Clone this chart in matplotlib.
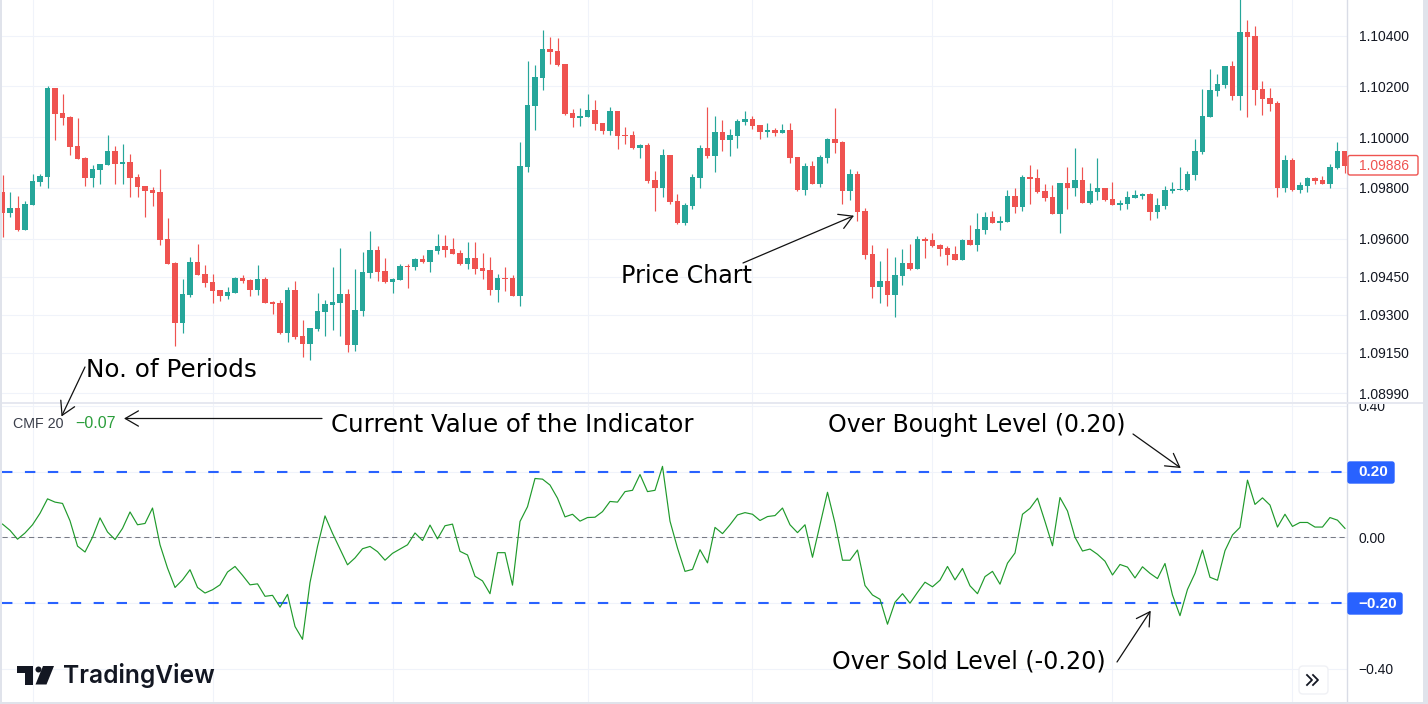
import numpy as np
import pandas as pd
import matplotlib
matplotlib.use('Agg')
import matplotlib.pyplot as plt
from matplotlib.patches import Rectangle, Polygon, Circle, FancyBboxPatch
from matplotlib.transforms import Bbox

W, H = 1428, 704

# OHLC, in points above 1.09000
ohlc = [
(782,849,605,700),(700,782,684,719),(719,767,629,633),(633,747,633,735),(731,853,731,826),
(822,853,806,845),(841,1200,798,1192),(1192,1192,987,1090),(1094,1169,1046,1074),(1078,1082,928,960),
(964,1074,912,912),(916,920,806,838),(838,889,802,873),(869,893,814,893),(889,1007,889,944),
(944,964,814,893),(893,972,814,901),(901,932,763,838),(841,853,763,802),(806,806,684,786),
(790,802,727,778),(782,873,574,593),(597,680,499,499),(503,507,176,266),(266,440,227,380),
(376,526,369,507),(507,577,455,455),(459,495,408,424),(428,459,345,392),(396,396,353,372),
(372,408,361,388),(384,447,384,443),(443,455,424,432),(436,440,372,396),(396,495,376,440),
(440,447,345,345),(349,353,302,341),(345,357,223,227),(227,408,191,396),(396,432,203,211),
(215,278,132,183),(183,246,120,246),(242,384,235,313),(309,357,215,341),(337,487,239,349),
(345,562,215,380),(380,400,152,179),(179,479,156,317),(313,546,294,467),(463,629,443,554),
(554,570,432,467),(471,522,424,428),(428,443,384,440),(436,499,436,491),(491,499,404,487),
(487,522,475,518),(518,534,503,507),(507,554,467,554),(550,617,538,570),(570,613,526,554),
(558,601,538,538),(542,554,495,499),(499,585,479,522),(522,585,459,479),(483,542,440,471),
(475,526,376,396),(396,459,349,443),(443,487,392,440),(443,455,372,372),(372,979,333,885),
(881,1299,861,1125),(1121,1283,1027,1236),(1232,1421,1184,1346),(1346,1393,1287,1334),(1338,1389,1279,1283),
(1287,1287,1086,1090),(1094,1109,1038,1074),(1074,1113,1042,1082),(1078,1169,1078,1105),(1105,1145,1027,1050),
(1054,1054,1011,1023),(1023,1117,1007,1102),(1102,1102,952,1003),(1007,1038,972,1003),(1007,1023,952,956),
(956,972,916,968),(968,975,818,826),(830,865,708,798),(798,952,763,928),(928,928,735,743),
(747,774,656,660),(660,739,652,731),(727,853,715,841),(838,968,798,956),(956,1117,916,924),
(924,1082,861,1019),(1019,1066,944,987),(987,1031,924,1007),(1003,1070,956,1062),(1058,1102,1046,1070),
(1070,1082,1031,1042),(1046,1046,991,1019),(1019,1054,999,1027),(1027,1035,1003,1015),(1015,1050,1015,1027),
(1027,1054,897,916),(920,920,786,790),(790,897,771,885),(885,905,814,814),(814,928,802,920),
(916,995,897,991),(991,1113,936,975),(979,983,735,786),(786,873,751,853),(853,865,668,704),
(708,719,518,534),(538,574,365,408),(408,510,345,432),(432,562,333,376),(376,526,290,455),
(451,558,416,503),(503,577,475,479),(479,609,479,597),(597,605,522,589),(593,621,566,570),
(573,577,530,558),(562,570,495,534),(538,570,514,514),(514,597,514,593),(593,652,573,573),
(573,700,550,637),(633,704,617,684),(684,708,660,660),(660,688,633,668),(664,790,664,767),
(767,798,700,723),(723,849,708,841),(841,889,735,834),(838,873,778,782),(786,814,747,759),
(763,810,696,696),(696,818,621,818),(818,881,715,798),(798,956,767,830),(830,881,739,739),
(739,818,735,786),(782,916,751,798),(798,798,747,751),(755,822,731,731),(731,751,711,739),
(735,786,715,763),(759,790,759,771),(767,778,755,774),(774,778,672,704),(704,759,680,731),
(727,806,715,790),(786,822,778,794),(790,881,790,794),(790,865,786,853),(849,991,830,944),
(940,1188,932,1082),(1078,1267,1078,1184),(1180,1247,1161,1208),(1204,1279,1192,1279),(1279,1299,1145,1161),
(1161,1552,1105,1413),(1413,1460,1078,1393),(1397,1437,1125,1184),(1188,1220,1086,1149),(1153,1192,1102,1129),
(1133,1141,763,798),(798,928,782,908),(908,916,786,790),(790,822,778,810),(806,841,782,838),
(838,841,814,826),(830,845,814,814),(814,893,798,881),(877,979,873,944),(944,944,857,886),
]
df = pd.DataFrame(ohlc, columns=['open', 'high', 'low', 'close'])
df = 1.09 + df / 1e5

cmf = [
.040,.021,-.006,.013,.038,.073,.117,.107,.103,.050,-.027,-.045,0,.059,.016,-.007,.027,.077,.038,.042,
.089,-.023,-.094,-.153,-.130,-.099,-.153,-.170,-.160,-.145,-.106,-.089,-.116,-.145,-.142,-.180,-.177,-.213,-.174,-.272,
-.311,-.138,-.028,.065,.012,-.036,-.084,-.063,-.035,-.028,-.044,-.070,-.049,-.036,-.023,.013,-.010,.037,-.005,.035,
.040,-.043,-.054,-.119,-.133,-.172,-.047,-.047,-.146,.048,.093,.179,.177,.159,.119,.062,.070,.049,.060,.061,
.078,.109,.107,.139,.143,.191,.139,.143,.216,.049,-.033,-.104,-.098,-.038,-.078,.030,.011,.038,.068,.075,
.070,.051,.063,.066,.089,.038,.014,.038,-.061,.038,.137,.043,-.070,-.070,-.039,-.147,-.176,-.189,-.265,-.198,
-.172,-.201,-.168,-.137,-.151,-.131,-.089,-.130,-.095,-.148,-.172,-.120,-.104,-.143,-.079,-.048,.070,.088,.119,.048,
-.026,.121,.080,0,-.042,-.036,-.052,-.073,-.115,-.083,-.091,-.124,-.090,-.110,-.126,-.080,-.176,-.239,-.159,-.110,
-.039,-.122,-.131,-.041,.007,.030,.174,.100,.120,.098,.031,.070,.033,.045,.045,.031,.031,.060,.052,.027,
]

UP, DOWN = '#26a69a', '#ef5350'
GRID = '#f0f3fa'
EDGE = '#d9dce6'
BLUE = '#2962ff'
INK = '#131722'

fig = plt.figure(figsize=(W / 100, H / 100), dpi=100, facecolor='white')
ax = fig.add_axes([2 / W, (H - 403) / H, 1345 / W, 403 / H])
ax2 = fig.add_axes([2 / W, 2 / H, 1345 / W, 299 / H])

x = np.arange(len(df))
xlim = (-0.07, 179.27)
gridx = [4, 28, 52, 78, 100, 124, 148, 172]

# ローソク足
colors = np.where(df['close'] >= df['open'], UP, DOWN)
ax.vlines(x, df['low'], df['high'], colors=colors, linewidth=0.85, zorder=3)
ax.bar(x, (df['close'] - df['open']).abs(), bottom=df[['open', 'close']].min(axis=1),
       width=0.68, color=colors, linewidth=0, zorder=4)
ax.set_xlim(xlim)
ax.set_ylim(1.08952, 1.1054)
pticks = [1.104, 1.102, 1.100, 1.098, 1.096, 1.0945, 1.093, 1.0915, 1.0899]
ax.set_yticks(pticks)
ax.set_yticklabels(['%.5f' % p for p in pticks])

# CMF
ax2.plot(x, cmf, color='#1f9a2b', linewidth=0.85, zorder=4)
ax2.axhline(0.2, color=BLUE, linewidth=1.5, dashes=(5, 6), zorder=3)
ax2.axhline(-0.2, color=BLUE, linewidth=1.5, dashes=(5, 6), zorder=3)
ax2.axhline(0, color='#787b86', linewidth=0.75, dashes=(5, 3.5), zorder=3)
ax2.set_xlim(xlim)
ax2.set_ylim(-0.502, 0.409)
ax2.set_yticks([0.4, 0.2, 0, -0.2, -0.4])
ax2.set_yticklabels(['0.40', '', '0.00', '', '\u22120.40'])

for a in (ax, ax2):
    a.set_xticks(gridx)
    a.set_xticklabels([])
    a.grid(True, color=GRID, linewidth=0.8)
    a.set_axisbelow(True)
    a.yaxis.tick_right()
    a.tick_params(axis='both', length=0)
    a.tick_params(axis='y', pad=8.5, labelsize=10, labelcolor=INK)
    for s in ('top', 'left', 'bottom'):
        a.spines[s].set_visible(False)
    a.spines['right'].set_color(EDGE)
    a.spines['right'].set_linewidth(1.0)
    for lab in a.get_yticklabels():
        lab.set_family(['Liberation Sans', 'DejaVu Sans'])

for tick in ax2.yaxis.get_major_ticks():
    tick.label2.set_clip_on(True)
    tick.label2.set_clip_box(Bbox([[1340, 0], [W, H - 402.5]]))

# 注釈・枠・ロゴはピクセル座標のオーバーレイに描く
ov = fig.add_axes([0, 0, 1, 1], facecolor='none')
ov.set_xlim(0, W)
ov.set_ylim(H, 0)
ov.axis('off')

# 右軸のタグ
def tag_box(x0, y0, w, h, fc, ec):
    ov.add_patch(FancyBboxPatch((x0, y0), w, h, boxstyle='round,pad=0,rounding_size=2',
                                fc=fc, ec=ec, lw=1.0, zorder=5))

tag_box(1348, 462, 46, 21, BLUE, BLUE)
tag_box(1348, 593, 54, 21, BLUE, BLUE)
tag_box(1348, 155.5, 70, 19.5, 'white', DOWN)
tag = dict(transform=ov.transData, ha='left', va='center', color='white', fontsize=11,
           fontweight='bold', family='Liberation Sans', zorder=6)
ov.text(1358, 472.5, '0.20', **tag)
ov.text(1358, 603.5, '\u22120.20', **tag)
ov.text(1359, 165.5, '%.5f' % df['close'].iloc[-1], ha='left', va='center', color=DOWN, fontsize=10,
        family='Liberation Sans', zorder=6)

ov.add_patch(Rectangle((0, 0), 2, H, fc='#e0e3eb', ec='none'))
ov.add_patch(Rectangle((1423, 0), 5, H, fc='#e0e3eb', ec='none'))
ov.add_patch(Rectangle((2, 402), 1421, 2, fc='#e6e8f0', ec='none'))
ov.add_patch(Rectangle((0, 702), W, 2, fc='#e0e3eb', ec='none'))

labels = [
    ('No. of Periods', 86, 370, 17.8),
    ('Current Value of the Indicator', 331, 425, 17.6),
    ('Over Bought Level (0.20)', 828, 425, 17.0),
    ('Over Sold Level (-0.20)', 832, 661, 17.1),
    ('Price Chart', 621, 276, 17.1),
]
for s, tx, ty, fs in labels:
    ov.text(tx, ty, s, fontsize=fs, color='black', ha='left', va='center', family='DejaVu Sans')

arrows = [
    ((85, 367), (61.5, 416.5)),
    ((322, 418.5), (124, 418.5)),
    ((1133, 434), (1180.7, 468)),
    ((1117, 662), (1150.7, 610.7)),
    ((743, 263), (854, 215.7)),
]
for tail, tip in arrows:
    ov.annotate('', xy=tip, xytext=tail,
                arrowprops=dict(arrowstyle='->,head_length=0.95,head_width=0.55', color='#111111',
                                linewidth=0.9, shrinkA=0, shrinkB=0))

ov.text(13, 424, 'CMF 20', fontsize=10.3, color='#3a3e4a', ha='left', va='center', family='Liberation Sans')
ov.text(75, 424, '\u22120.07', fontsize=11.5, color='#2a9d3a', ha='left', va='center', family='Liberation Sans')

# TradingView ロゴ
ov.add_patch(Polygon([(17, 666), (32.5, 666), (32.5, 684.5), (25, 684.5), (25, 673), (17, 673)], fc=INK, ec='none'))
ov.add_patch(Circle((38.5, 669.5), 3, fc=INK, ec='none'))
ov.add_patch(Polygon([(43, 666), (54, 666), (46.5, 684.5), (35.5, 684.5)], fc=INK, ec='none'))
ov.text(63, 676, 'TradingView', fontsize=17.7, fontweight='semibold', color=INK, ha='left', va='center', family='Inter')

# スクロールボタン
ov.add_patch(FancyBboxPatch((1299, 666), 29, 28, boxstyle='round,pad=0,rounding_size=4',
                            fc='white', ec='#f0f1f5', lw=1.0, zorder=5))
ov.plot([1307, 1312, 1307], [675, 680, 685], color=INK, lw=1.3, zorder=6)
ov.plot([1313, 1318, 1313], [675, 680, 685], color=INK, lw=1.3, zorder=6)

fig.savefig('out.png', dpi=100)
